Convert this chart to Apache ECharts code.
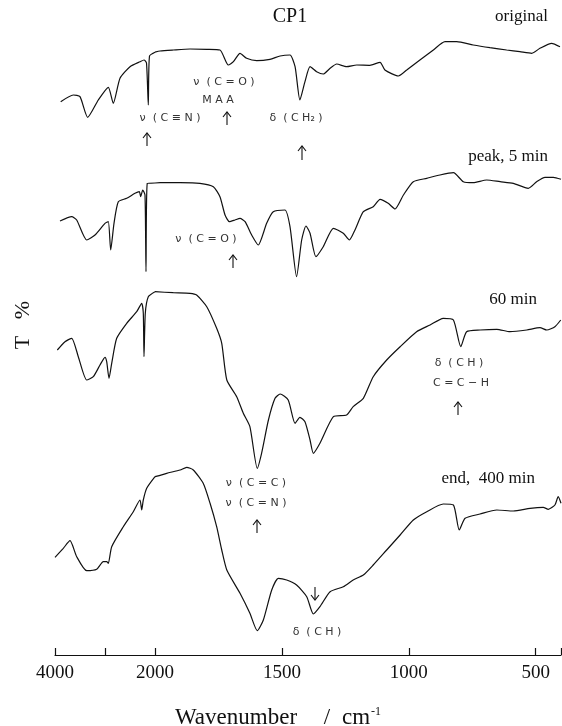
<!DOCTYPE html>
<html>
<head>
<meta charset="utf-8">
<script src="https://cdn.jsdelivr.net/npm/echarts@6/dist/echarts.min.js"></script>
<style>
  html, body { margin: 0; padding: 0; background: #fff; }
  #chart { width: 562px; height: 726px; }
</style>
</head>
<body>
<div id="chart"></div>
<script>
// [wavenumber cm-1, T (arbitrary units, traces stacked)]
const spOriginal = [
  [3886, 553.3], [3634, 560], [3500, 558.3], [3346, 537.7], [3134, 555], [2934, 567.7],
  [2834, 551.7], [2700, 576.7], [2500, 588.3], [2300, 593.3], [2220, 595], [2170, 592],
  [2134, 550], [2110, 599], [2000, 602.8],
  [1980, 604], [1928, 605], [1862, 606], [1796, 605.7], [1744, 605], [1711, 590],
  [1691, 593.3], [1665, 601.7], [1639, 596.7], [1599, 594.3], [1547, 595.7], [1507, 599],
  [1468, 600], [1448, 588.3], [1429, 555], [1409, 573.3], [1389, 588.3], [1363, 583.3],
  [1337, 581], [1310, 586.7], [1284, 591], [1245, 588.3], [1205, 590], [1153, 589.7],
  [1113, 592.7], [1094, 585], [1041, 579], [1008, 585], [956, 595], [903, 605],
  [857, 613.3], [811, 613.3], [746, 610], [680, 607.3], [614, 605], [562, 603.3],
  [515, 601.7], [483, 606.7], [437, 611.7], [404, 608.3]
];

const spPeak5 = [
  [3900, 434], [3666, 438.3], [3566, 435], [3366, 415], [3200, 420], [3000, 431.7],
  [2934, 433.3], [2886, 405], [2820, 431.7], [2734, 453.3], [2566, 456.7], [2400, 461.7],
  [2314, 463.3], [2286, 458.3], [2246, 465], [2200, 460], [2180, 383.3], [2154, 471.7],
  [2000, 472],
  [1980, 472.3], [1901, 472.3], [1823, 471.7], [1770, 468.3], [1744, 458.3], [1724, 440],
  [1707, 433.3], [1685, 435], [1665, 436.7], [1645, 433.3], [1619, 420], [1593, 410],
  [1560, 431.7], [1534, 443.3], [1488, 445], [1468, 428.3], [1442, 378.3], [1422, 415],
  [1405, 429], [1389, 421.7], [1366, 398.3], [1337, 408.3], [1297, 426.7], [1258, 421.7],
  [1234, 415], [1212, 425], [1179, 443.3], [1140, 448.3], [1113, 455.7], [1081, 451.7],
  [1054, 446], [1021, 460], [982, 473.3], [929, 476.7], [877, 480], [824, 482.3],
  [785, 473.3], [746, 472.3], [693, 475], [640, 473.3], [588, 471.7], [529, 466.7],
  [496, 473.3], [463, 477.7], [430, 477.7], [400, 475.7]
];

const sp60 = [
  [3954, 305], [3800, 313.3], [3666, 316.7], [3534, 298.3], [3366, 275], [3234, 278.3],
  [3100, 290], [3000, 297.7], [2966, 293.3], [2920, 276.7], [2866, 291.7], [2766, 316.7],
  [2566, 331.7], [2366, 343.3], [2266, 351.7], [2234, 341.7], [2220, 298.3], [2194, 341.7],
  [2134, 358.3], [2000, 363.3],
  [1928, 362.3], [1862, 361.7], [1836, 360], [1796, 348.3], [1757, 326.7], [1737, 311.7],
  [1717, 275], [1678, 258.3], [1652, 241.7], [1626, 228.3], [1597, 186.7], [1580, 201.7],
  [1553, 235], [1527, 256.7], [1507, 261], [1475, 255], [1448, 231.7], [1429, 237.7],
  [1409, 233.3], [1389, 215], [1376, 201.7], [1350, 211.7], [1297, 238.3], [1245, 240],
  [1219, 248.3], [1179, 256.7], [1140, 278.3], [1087, 295], [1034, 308.3], [969, 323.3],
  [916, 330], [864, 336.7], [824, 335], [795, 308.3], [772, 323.3], [719, 325],
  [653, 325.7], [601, 323.3], [535, 325], [483, 327.3], [456, 325], [424, 328.3], [401, 335]
];

const spEnd400 = [
  [4000, 97.7], [3834, 106.7], [3700, 114.3], [3566, 98.3], [3366, 84.3], [3166, 85.7],
  [3034, 93.3], [2966, 93.3], [2934, 91.7], [2866, 108.3], [2634, 128.3], [2434, 143.3],
  [2300, 155], [2266, 145], [2234, 155], [2166, 166.7], [2000, 178.3],
  [1954, 181.7], [1901, 185], [1875, 187.7], [1849, 185], [1810, 171.7], [1783, 151.7],
  [1757, 128.3], [1737, 105], [1717, 85], [1665, 61.7], [1626, 41.7], [1597, 24.3],
  [1573, 35], [1540, 65], [1514, 76.7], [1481, 75], [1442, 70], [1402, 58.3],
  [1376, 41], [1350, 48.3], [1310, 63.3], [1258, 68.3], [1219, 75], [1179, 80],
  [1140, 90], [1087, 105], [1034, 120], [982, 135], [929, 143.3], [864, 151],
  [824, 150], [801, 125], [778, 136.7], [719, 141], [653, 145], [588, 144],
  [522, 146.7], [470, 147.7], [450, 145.7], [424, 150], [411, 158.3], [400, 151.7]
];

const traces = [spOriginal, spPeak5, sp60, spEnd400];

// axis ticks and labels (wavenumber scale changes at 2000)
const ticksHigh = [4000, 3000, 2000];
const labelsHigh = [4000, 2000];
const ticksLow = [1500, 1000, 500, 400];
const labelsLow = [1500, 1000, 500];

const ink = '#111';
const serif = '"Liberation Serif", "DejaVu Serif", serif';
const sans = '"DejaVu Sans", sans-serif';

const chart = echarts.init(document.getElementById('chart'));

const makeX = (gridIndex, min, max, ticks, labels) => ({
  type: 'value',
  gridIndex: gridIndex,
  min: min,
  max: max,
  inverse: true,
  axisLine: { show: true, lineStyle: { color: ink, width: 1.2 } },
  axisTick: { show: true, inside: true, length: 7, customValues: ticks, lineStyle: { color: ink, width: 1.2 } },
  axisLabel: {
    show: true, customValues: labels, margin: 9, color: ink, fontFamily: serif, fontSize: 19,
    formatter: v => String(v)
  },
  splitLine: { show: false }
});

const makeY = gridIndex => ({
  type: 'value', gridIndex: gridIndex, min: 0, max: 655, show: false
});

const series = [];
traces.forEach(pts => {
  series.push({
    type: 'line', xAxisIndex: 0, yAxisIndex: 0, showSymbol: false, silent: true, smooth: 0.2,
    data: pts.filter(p => p[0] >= 2000),
    lineStyle: { color: ink, width: 1.2 }
  });
  series.push({
    type: 'line', xAxisIndex: 1, yAxisIndex: 1, showSymbol: false, silent: true, smooth: 0.2,
    data: pts.filter(p => p[0] <= 2000),
    lineStyle: { color: ink, width: 1.2 }
  });
});

const txt = (text, x, y, opts) => Object.assign({
  type: 'text', x: x, y: y, silent: true,
  style: Object.assign({ text: text, fill: ink, align: 'center', verticalAlign: 'middle' }, opts)
});

const note = (text, x, y) => txt(text, x, y, { font: '11px ' + sans, fill: '#333' });

const arrow = (x, y1, y2, up) => {
  const tip = up ? y1 : y2;
  const d = up ? 5 : -5;
  return {
    type: 'group', silent: true,
    children: [
      { type: 'line', shape: { x1: x, y1: y1, x2: x, y2: y2 }, style: { stroke: ink, lineWidth: 1.1 } },
      { type: 'polyline', shape: { points: [[x - 4, tip + d], [x, tip], [x + 4, tip + d]] },
        style: { stroke: ink, lineWidth: 1.1, fill: null } }
    ]
  };
};

const yTitle = txt('T   %', 23, 325, { font: '22px ' + serif });
yTitle.rotation = Math.PI / 2;

const graphics = [
  txt('CP1', 290, 17, { font: '20px ' + serif }),
  txt('original', 548, 17, { font: '17px ' + serif, align: 'right' }),
  txt('peak, 5 min', 548, 157, { font: '17px ' + serif, align: 'right' }),
  txt('60 min', 537, 300, { font: '17px ' + serif, align: 'right' }),
  txt('end,  400 min', 535, 479, { font: '17px ' + serif, align: 'right' }),

  yTitle,

  txt('Wavenumber', 175, 718, { font: '23px ' + serif, align: 'left' }),
  txt('/', 327, 718, { font: '23px ' + serif }),
  txt('cm', 342, 718, { font: '23px ' + serif, align: 'left' }),
  txt('-1', 371, 712, { font: '12px ' + serif, align: 'left' }),

  note('ν  ( C = O )', 224, 82),
  note('M A A', 218, 100),
  arrow(227, 112, 125, true),
  note('ν  ( C ≡ N )', 170, 118),
  arrow(147, 133, 146, true),
  note('δ  ( C H₂ )', 296, 118),
  arrow(302, 146, 160, true),

  note('ν  ( C = O )', 206, 239),
  arrow(233, 255, 268, true),

  note('δ  ( C H )', 459, 363),
  note('C = C − H', 461, 383),
  arrow(458, 402, 415, true),

  note('ν  ( C = C )', 256, 483),
  note('ν  ( C = N )', 256, 503),
  arrow(257, 520, 533, true),
  arrow(315, 587, 600, false),
  note('δ  ( C H )', 317, 632)
];

chart.setOption({
  animation: false,
  backgroundColor: '#fff',
  grid: [
    { left: 55, right: 407, top: 0, bottom: 71 },
    { left: 155, right: 1, top: 0, bottom: 71 }
  ],
  xAxis: [
    makeX(0, 2000, 4000, ticksHigh, labelsHigh),
    makeX(1, 400, 2000, ticksLow, labelsLow)
  ],
  yAxis: [makeY(0), makeY(1)],
  series: series,
  graphic: { elements: graphics }
});
</script>
</body>
</html>
